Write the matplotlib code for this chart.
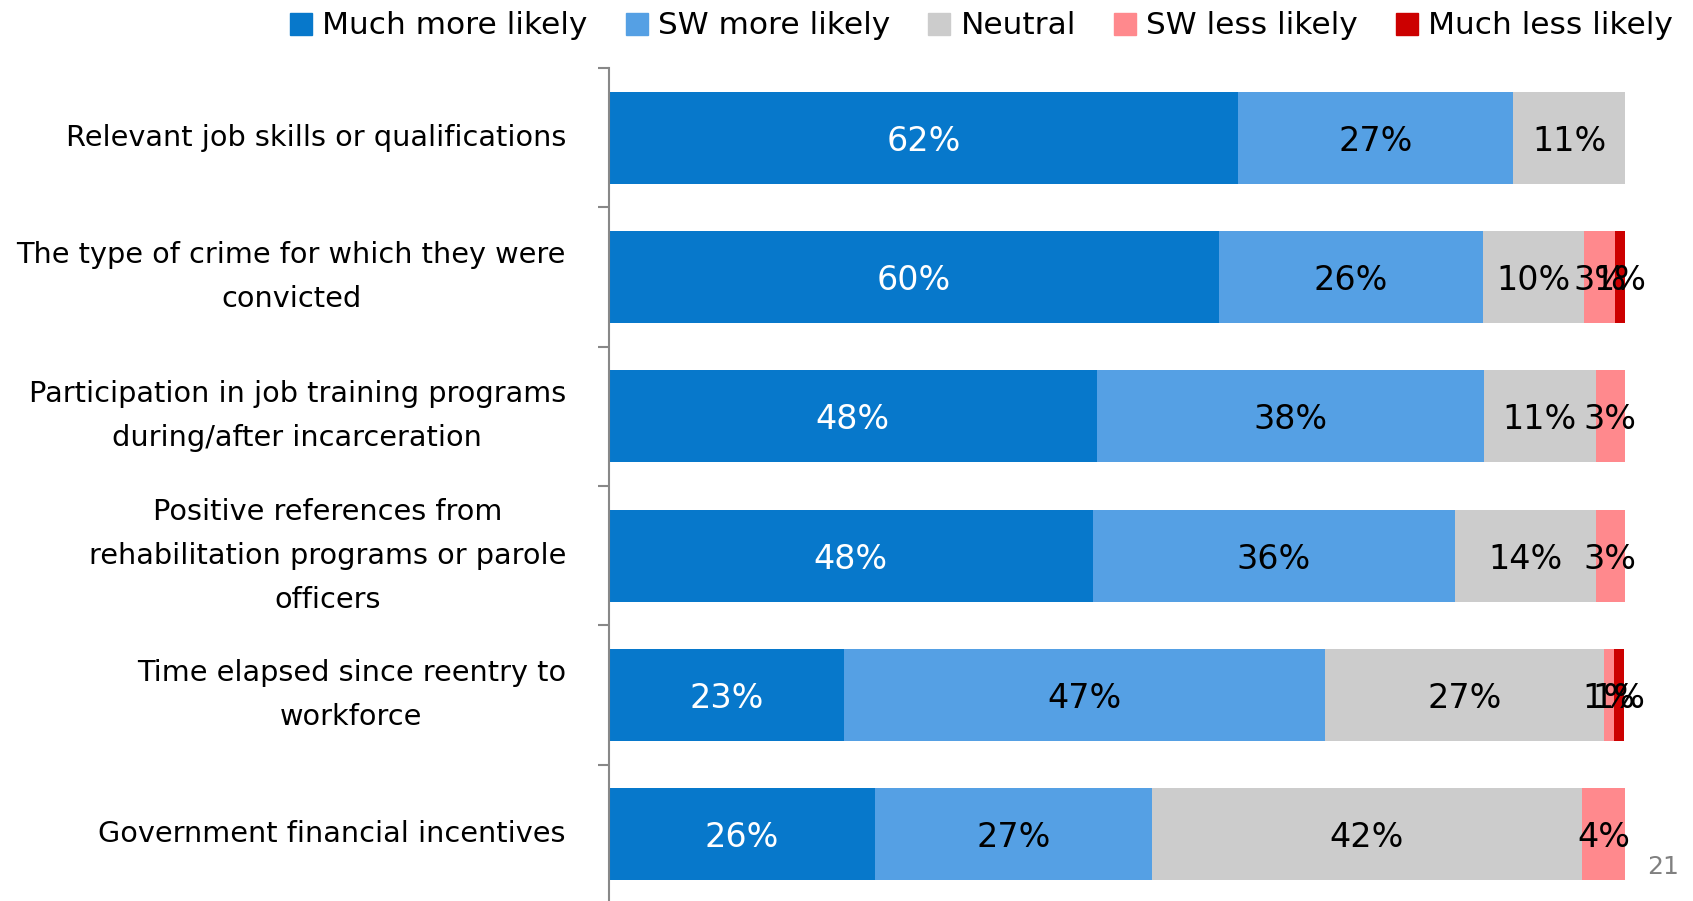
import matplotlib
matplotlib.use("Agg")
import matplotlib.pyplot as plt
from matplotlib.lines import Line2D
import numpy as np

plt.rcParams['font.family'] = ['DejaVu Sans']

categories = [
    "Relevant job skills or qualifications",
    "The type of crime for which they were\nconvicted",
    "Participation in job training programs\nduring/after incarceration",
    "Positive references from\nrehabilitation programs or parole\nofficers",
    "Time elapsed since reentry to\nworkforce",
    "Government financial incentives",
]
series_names = ["Much more likely", "SW more likely", "Neutral", "SW less likely", "Much less likely"]
much_more = [61.9, 60.0, 48.0, 47.6, 23.1, 26.2]
sw_more = [27.1, 26.0, 38.1, 35.7, 47.4, 27.2]
neutral = [11.0, 10.0, 11.0, 13.8, 27.4, 42.4]
sw_less = [0.0, 3.0, 2.9, 2.9, 1.0, 4.2]
much_less = [0.0, 1.0, 0.0, 0.0, 1.0, 0.0]

colors = ["#0778CB", "#55A0E4", "#CCCCCC", "#FF898D", "#CC0000"]
text_colors = ["white", "black", "black", "black", "black"]

W, H = 1693, 901
fig = plt.figure(figsize=(W / 100, H / 100), dpi=100)
ax = fig.add_axes([609 / W, -3 / H, (1625 - 609) / W, (904 - 68) / H])

series = [much_more, sw_more, neutral, sw_less, much_less]
y = np.arange(len(categories))
left = np.zeros(len(categories))
for s, name, c, tc in zip(series, series_names, colors, text_colors):
    vals = np.array(s)
    ax.barh(y, vals, left=left, height=0.66, color=c, label=name)
    for yi, (l, v) in enumerate(zip(left, vals)):
        if v > 0:
            ax.text(l + v / 2, yi, f"{v:.0f}%", ha="center", va="center_baseline",
                    color=tc, fontsize=24)
    left = left + vals

ax.set_xlim(0, 100)
ax.set_ylim(len(categories) - 0.5, -0.5)
ax.set_yticks(y)
ax.set_yticklabels(categories, fontsize=20.7, multialignment="center", linespacing=1.72, va="center")
ax.set_yticks(np.arange(-0.5, len(categories), 1), minor=True)
ax.tick_params(axis="y", which="major", length=0, pad=31)
ax.tick_params(axis="y", which="minor", length=8, color="#888888", width=1.5)
ax.set_xticks([])
for sp in ["top", "right", "bottom"]:
    ax.spines[sp].set_visible(False)
ax.spines["left"].set_color("#888888")
ax.spines["left"].set_linewidth(1.5)

handles = [Line2D([], [], marker="s", ls="", color=c, markersize=16) for c in colors]
fig.legend(handles, series_names, loc="center right", bbox_to_anchor=(1673 / W, 1 - 26 / H),
           ncol=5, frameon=False, fontsize=22.5, handlelength=0.75, handletextpad=0.3,
           columnspacing=1.2, borderaxespad=0.0, borderpad=0.0)

fig.text(1663 / W, 1 - 867 / H, "21", color="#808080", fontsize=18, ha="center", va="center")

fig.savefig("out.png", dpi=100)
